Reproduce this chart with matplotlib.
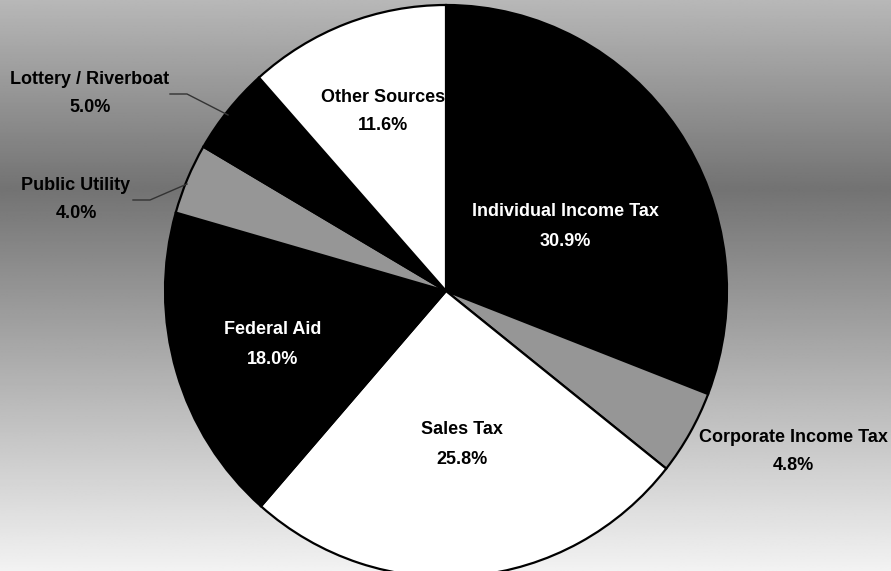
import numpy as np
import matplotlib
matplotlib.use("Agg")
import matplotlib.pyplot as plt
from matplotlib.lines import Line2D

# Revenue sources (share of total, %)
categories = ["Individual Income Tax", "Corporate Income Tax", "Sales Tax",
              "Federal Aid", "Public Utility", "Lottery / Riverboat", "Other Sources"]
shares = [30.9, 4.8, 25.8, 18.0, 4.0, 5.0, 11.6]
slice_colors = ["#000000", "#969696", "#ffffff", "#000000", "#969696", "#000000", "#ffffff"]
label_colors = ["white", "black", "black", "white", "black", "black", "black"]

W, H = 891, 571
fig = plt.figure(figsize=(W / 100, H / 100), dpi=100)

# Vertical grey gradient backdrop
bg = fig.add_axes([0, 0, 1, 1])
rows = np.linspace(0, 1, 400)
stops_y = [0.0, 0.33, 1.0]
stops_v = [0.72, 0.45, 0.95]
vals = np.interp(rows, stops_y, stops_v)
grad = np.repeat(vals[:, None], 2, axis=1)
bg.imshow(grad, cmap="gray", vmin=0, vmax=1, aspect="auto",
          extent=[0, 1, 0, 1], origin="upper")
bg.set_axis_off()

# Pie axes spanning the figure; limits give a slightly tall ellipse
ax = fig.add_axes([0, 0, 1, 1])
ax.patch.set_alpha(0)
cx, cy, rx, ry = 446, 291, 281, 286
ax.pie(shares, colors=slice_colors, startangle=90, counterclock=False,
       wedgeprops=dict(edgecolor="black", linewidth=1.6))
ax.set_aspect("auto")
ax.set_xlim(-cx / rx, (W - cx) / rx)
ax.set_ylim(-(H - cy) / ry, cy / ry)
ax.set_axis_off()

font = dict(family=["Liberation Sans Narrow", "Liberation Sans", "DejaVu Sans"],
            weight="bold", fontsize=13)

# label centres in pixels (x, y from top)
label_pos = [(565, 212), (793, 437), (462, 430), (273, 330),
             (76, 185), (90, 79), (383, 97)]

for name, val, col, (px, py) in zip(categories, shares, label_colors, label_pos):
    fig.text(px / W, 1 - py / H, name, ha="center", va="center", color=col, **font)
    fig.text(px / W, 1 - (py + 29) / H, f"{val:.1f}%", ha="center", va="center",
             color=col, **font)

# leader lines for the small slices on the left
leaders = [
    [(170, 94), (187, 94), (228, 115)],
    [(133, 200), (150, 200), (187, 184)],
]
for pts in leaders:
    xs = [p[0] / W for p in pts]
    ys = [1 - p[1] / H for p in pts]
    fig.add_artist(Line2D(xs, ys, transform=fig.transFigure, color="#333333", linewidth=1))

fig.savefig("out.png", dpi=100)
